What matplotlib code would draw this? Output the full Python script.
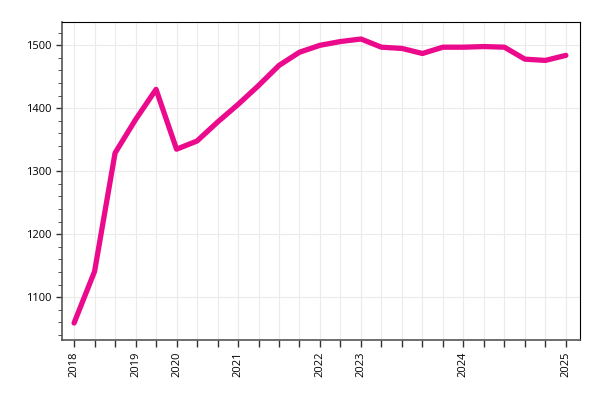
import matplotlib
matplotlib.use("Agg")
import matplotlib.pyplot as plt
from matplotlib.ticker import MultipleLocator

plt.rcParams['font.family'] = ['Open Sans', 'DejaVu Sans']

values = [1059, 1141, 1329, 1382, 1430, 1335, 1348, 1378, 1406, 1436, 1468, 1489,
          1500, 1506, 1510, 1497, 1495, 1487, 1497, 1497, 1498, 1497, 1478, 1476, 1484]
year_labels = {0: '2018', 3: '2019', 5: '2020', 8: '2021', 12: '2022',
               14: '2023', 19: '2024', 24: '2025'}

x = list(range(len(values)))
labels = [year_labels.get(i, '') for i in x]

fig = plt.figure(figsize=(6, 4), dpi=100)
ax = fig.add_axes([0.103, 0.15, 0.864, 0.795])

ax.plot(x, values, color='#EB0A8C', linewidth=3.8, solid_capstyle='round', solid_joinstyle='round', zorder=3)

ax.set_xlim(-0.6, 24.7)
ax.set_ylim(1032, 1537)
ax.set_xticks(x)
ax.set_xticklabels(labels, rotation=90, fontsize=8)
ax.yaxis.set_major_locator(MultipleLocator(100))
ax.yaxis.set_minor_locator(MultipleLocator(20))
ax.tick_params(axis='y', labelsize=8, length=4, width=1, color='#333333')
ax.tick_params(axis='y', which='minor', length=3, color='#333333')
ax.tick_params(axis='x', length=5, width=1, color='#333333')

ax.grid(True, color='#ebebeb', linewidth=0.8, zorder=0)
ax.set_axisbelow(True)

for side in ['top', 'right']:
    ax.spines[side].set_color('black')
    ax.spines[side].set_linewidth(0.8)
for side in ['left', 'bottom']:
    ax.spines[side].set_color('#555555')
    ax.spines[side].set_linewidth(1.2)

plt.savefig('out.png', dpi=100)
